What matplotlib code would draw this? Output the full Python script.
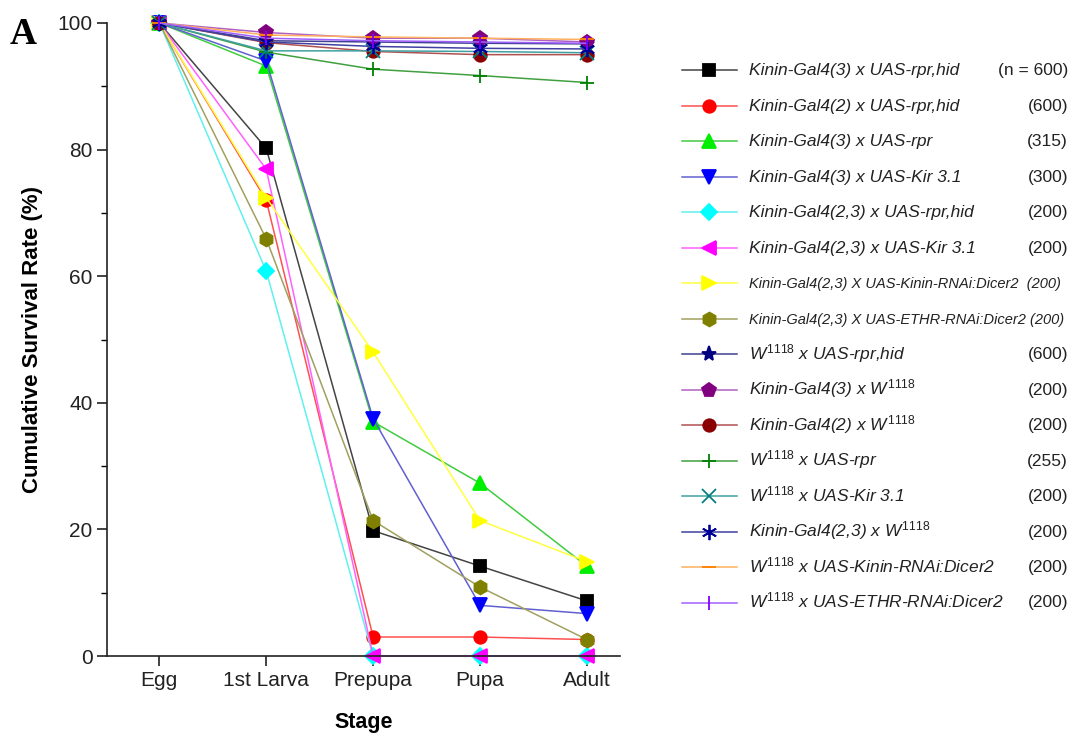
import matplotlib
matplotlib.use("Agg")
import matplotlib.pyplot as plt
import numpy as np

plt.rcParams["font.family"] = ["Liberation Sans", "DejaVu Sans"]
plt.rcParams["mathtext.fontset"] = "custom"
plt.rcParams["mathtext.it"] = "Liberation Sans:italic"
plt.rcParams["mathtext.rm"] = "Liberation Sans"

stages = ["Egg", "1st Larva", "Prepupa", "Pupa", "Adult"]

# survival (%) per genotype
g3_rprhid = [100, 80.2, 19.8, 14.2, 8.7]
g2_rprhid = [100, 72.0, 3.0, 3.0, 2.6]
g3_rpr = [100, 93.2, 37.0, 27.3, 14.2]
g3_kir = [100, 94.0, 37.5, 8.0, 6.7]
g23_rprhid = [100, 60.8, 0, 0, 0]
g23_kir = [100, 76.9, 0, 0, 0]
g23_kininrnai = [100, 72.4, 48.0, 21.4, 14.9]
g23_ethrrnai = [100, 65.9, 21.4, 10.9, 2.6]
w_rprhid = [100, 97.2, 97.0, 96.8, 96.7]
g3_w = [100, 98.5, 97.6, 97.6, 97.0]
g2_w = [100, 96.9, 95.5, 95.0, 95.0]
w_rpr = [100, 95.4, 92.7, 91.7, 90.6]
w_kir = [100, 95.6, 95.6, 95.5, 95.3]
g23_w = [100, 97.0, 96.3, 96.0, 95.9]
w_kininrnai = [100, 98.1, 97.8, 97.6, 97.4]
w_ethrrnai = [100, 97.6, 97.2, 97.0, 96.8]

W = r"$\mathit{W^{1118}}$"
labels = [
    "Kinin-Gal4(3) x UAS-rpr,hid",
    "Kinin-Gal4(2) x UAS-rpr,hid",
    "Kinin-Gal4(3) x UAS-rpr",
    "Kinin-Gal4(3) x UAS-Kir 3.1",
    "Kinin-Gal4(2,3) x UAS-rpr,hid",
    "Kinin-Gal4(2,3) x UAS-Kir 3.1",
    "Kinin-Gal4(2,3) X UAS-Kinin-RNAi:Dicer2  (200)",
    "Kinin-Gal4(2,3) X UAS-ETHR-RNAi:Dicer2 (200)",
    W + " x UAS-rpr,hid",
    "Kinin-Gal4(3) x " + W,
    "Kinin-Gal4(2) x " + W,
    W + " x UAS-rpr",
    W + " x UAS-Kir 3.1",
    "Kinin-Gal4(2,3) x " + W,
    W + " x UAS-Kinin-RNAi:Dicer2",
    W + " x UAS-ETHR-RNAi:Dicer2",
]
counts = ["(n = 600)", "(600)", "(315)", "(300)", "(200)", "(200)", "", "",
          "(600)", "(200)", "(200)", "(255)", "(200)", "(200)", "(200)", "(200)"]

series = [g3_rprhid, g2_rprhid, g3_rpr, g3_kir, g23_rprhid, g23_kir,
          g23_kininrnai, g23_ethrrnai, w_rprhid, g3_w, g2_w, w_rpr, w_kir,
          g23_w, w_kininrnai, w_ethrrnai]

# (marker, marker colour, line colour, marker size)
styles = [
    ("s", "#000000", "#444444", 8),
    ("o", "#ff0000", "#ff5050", 9),
    ("^", "#00ee00", "#40cc40", 10),
    ("v", "#0000ff", "#6060d0", 10),
    ("D", "#00ffff", "#60f0f0", 8),
    ("<", "#ff00ff", "#ff60ff", 10),
    (">", "#ffff00", "#ffff40", 10),
    ("h", "#808000", "#a0a060", 10),
    ("*", "#000080", "#404090", 11),
    ("p", "#800080", "#b060c0", 10),
    ("o", "#8b0000", "#b05050", 9),
    ("+", "#008000", "#40a040", 10),
    ("x", "#008080", "#40a0a0", 10),
    ((6, 2, 0), "#000099", "#4040a0", 11),
    ("_", "#ff8000", "#ffb060", 10),
    ("|", "#8000ff", "#a060ff", 10),
]

fig = plt.figure(figsize=(10.77, 7.35), dpi=100)
ax = fig.add_axes([107 / 1077, 1 - 656 / 735, 513 / 1077, 633 / 735])

x = np.arange(len(stages))
for ys, (m, mc, lc, ms) in zip(series, styles):
    ax.plot(x, ys, color=lc, lw=1.1, marker=m, markersize=ms,
            markerfacecolor=mc, markeredgecolor=mc, markeredgewidth=1.3,
            clip_on=False)

ax.set_xlim(-0.49, 4.31)
ax.set_ylim(0, 100)
ax.set_xticks(x)
ax.set_xticklabels(stages)
ax.set_yticks(np.arange(0, 101, 20))
ax.set_yticks(np.arange(10, 100, 20), minor=True)
ax.tick_params(axis="both", which="major", direction="out", length=7, width=1.2,
               labelsize=15, colors="#222222")
ax.tick_params(axis="y", which="minor", direction="out", length=4, width=1)
for s in ["top", "right"]:
    ax.spines[s].set_visible(False)
for s in ["left", "bottom"]:
    ax.spines[s].set_linewidth(1.2)
    ax.spines[s].set_color("#222222")
ax.set_xlabel("Stage", fontsize=15.5, fontweight="bold", labelpad=16)
ax.set_ylabel("Cumulative Survival Rate (%)", fontsize=16, fontweight="bold",
              labelpad=10)

fig.text(0.009, 0.94, "A", fontsize=27, fontweight="bold", family="Liberation Serif")

# legend drawn in pixel coordinates
lg = fig.add_axes([680 / 1077, 0, 397 / 1077, 1])
lg.set_xlim(680, 1077)
lg.set_ylim(735, 0)
lg.axis("off")
for i, (lab, cnt, (m, mc, lc, ms)) in enumerate(zip(labels, counts, styles)):
    yy = 70 + 35.5 * i
    lg.plot([682, 737], [yy, yy], color=lc, lw=1.1)
    lg.plot([709], [yy], marker=m, markersize=ms, color=mc,
            markeredgecolor=mc, markeredgewidth=1.3, linestyle="none")
    fs = 10.5 if "RNAi:Dicer2 " in lab else 12.5
    lg.text(749, yy + 5, lab, style="italic", fontsize=fs, va="baseline",
            color="#222222")
    if cnt:
        lg.text(1068, yy + 5, cnt, fontsize=12.5, va="baseline", ha="right",
                color="#222222")

fig.savefig("out.png", dpi=100)
